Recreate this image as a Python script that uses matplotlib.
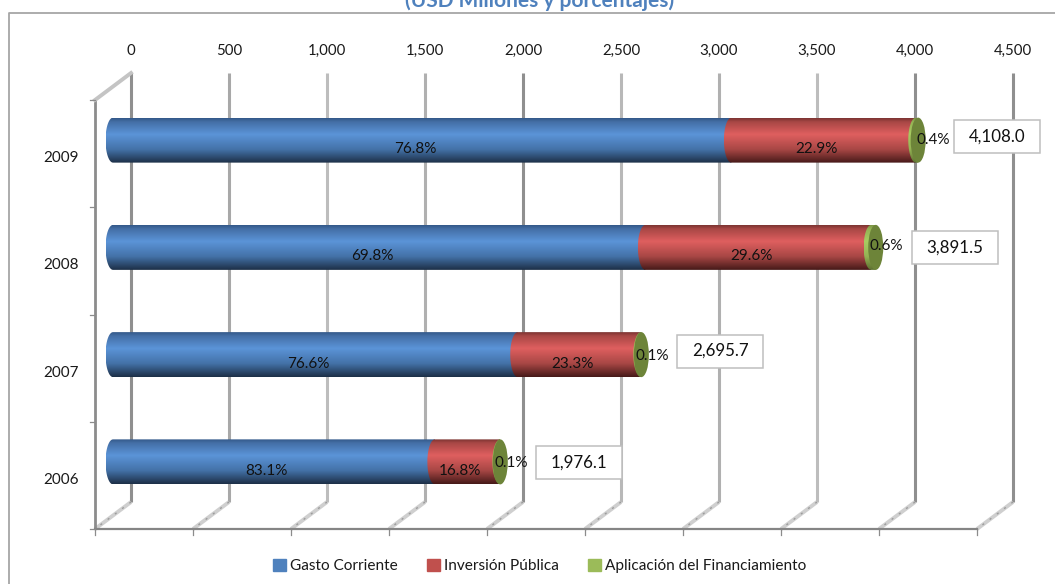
import numpy as np
import matplotlib
matplotlib.use('Agg')
import matplotlib.pyplot as plt
from matplotlib.patches import Ellipse, PathPatch, Patch, Rectangle
from matplotlib.path import Path
from matplotlib.lines import Line2D

# Data
years = ['2006', '2007', '2008', '2009']
totals = [1976.1, 2695.7, 3891.5, 4108.0]
gasto_pct = [83.1, 76.6, 69.8, 76.8]
inversion_pct = [16.8, 23.3, 29.6, 22.9]
aplicacion_pct = [0.1, 0.1, 0.6, 0.4]
series_names = ['Gasto Corriente', 'Inversión Pública', 'Aplicación del Financiamiento']
x_ticks = [0, 500, 1000, 1500, 2000, 2500, 3000, 3500, 4000, 4500]

plt.rcParams['font.family'] = ['Lato', 'DejaVu Sans']

W, H = 1055, 584
fig = plt.figure(figsize=(W / 100, H / 100), dpi=100)
ax = fig.add_axes([113 / W, (H - 515.5) / H, 882 / W, 429 / H])
ax.axis('off')

# pixels to data units
sx = 882 / 4500
sy = 429 / 4
dx = 18 / sx
dy = 13.5 / sy
half = 22.5 / sy
rx = 7.5 / sx


def shade(stops):
    pos = [0, 0.08, 0.36, 0.7, 1]
    rgb = np.array([matplotlib.colors.to_rgb(c) for c in stops])
    t = np.linspace(0, 1, 64)
    return np.stack([np.interp(t, pos, rgb[:, i]) for i in range(3)], axis=1)[:, None, :]


blue = shade(['#34598a', '#446fa6', '#5b94d8', '#4472a8', '#1d3048'])
red = shade(['#7e3533', '#a84745', '#df5f5f', '#a84745', '#471a19'])
green = shade(['#7d9645', '#94b254', '#a8cc62', '#94b254', '#5c7030'])


def segment(a, b, c, colors):
    # segment with the left end bulging out like a cylinder
    t = np.linspace(np.pi / 2, 3 * np.pi / 2, 30)
    xs = list(a + rx * np.cos(t)) + [b, b]
    ys = list(c + half * np.sin(t)) + [c - half, c + half]
    clip = PathPatch(Path(np.column_stack([xs, ys]), closed=False), transform=ax.transData)
    im = ax.imshow(colors, extent=(a - rx, b, c - half, c + half), aspect='auto',
                   interpolation='bilinear', zorder=4)
    im.set_clip_path(clip)
    im.set_clip_box(fig.bbox)


# back wall lines and floor lines
grid_colors = ['#8f8f8f', '#a8a8a8', '#bdbdbd', '#b0b0b0', '#8f8f8f',
               '#b8b8b8', '#b0b0b0', '#bdbdbd', '#8f8f8f', '#8f8f8f']
for v, col in zip(x_ticks, grid_colors):
    ax.plot([v + dx, v + dx], [-0.5 + dy, 3.5 + dy], color=col, lw=2.2,
            solid_capstyle='butt', clip_on=False, zorder=1)
    ax.plot([v + dx, v - dx], [-0.5 + dy, -0.5 - dy], color='#cfcfcf', lw=2.8,
            solid_capstyle='butt', clip_on=False, zorder=1)
    ax.plot([v + dx, v - dx], [-0.5 + dy, -0.5 - dy], color='#9c9c9c', lw=1.0,
            ls=(0, (1.5, 5)), clip_on=False, zorder=1)
    ax.plot([v - dx, v - dx], [-0.5 - dy, -0.5 - dy - 6 / sy], color='#8c8c8c', lw=0.9,
            clip_on=False, zorder=1)
    ax.annotate(f'{v:,}', (v + dx, 3.5 + dy), xytext=(0, 22), textcoords='offset pixels',
                ha='center', va='center', fontsize=10.8, color='#1a1a1a', annotation_clip=False)

# front left wall and front floor line
ax.plot([-dx, -dx], [-0.5 - dy, 3.5 - dy], color='#8c8c8c', lw=2.0, clip_on=False, zorder=1,
        solid_capstyle='butt')
ax.plot([-dx, 4500 - dx], [-0.5 - dy, -0.5 - dy], color='#858585', lw=1.6, clip_on=False, zorder=1)
ax.plot([dx, -dx], [3.5 + dy, 3.5 - dy], color='#c4c4c4', lw=2.8, clip_on=False, zorder=1)
for k in range(5):
    yy = -0.5 + k - dy
    ax.plot([-dx, -dx - 5 / sx], [yy, yy], color='#8c8c8c', lw=0.9, clip_on=False, zorder=1)

# bars
for i, year in enumerate(years):
    total = totals[i]
    g = total * gasto_pct[i] / 100
    n = total * inversion_pct[i] / 100
    segment(0, g, i, blue)
    segment(g, g + n, i, red)
    segment(g + n, total, i, green)
    ax.add_patch(Ellipse((total, i), 2 * rx, 2 * half, facecolor='#6d8439', edgecolor='none', zorder=5))

    # percent labels
    for v, p in [(g / 2, gasto_pct[i]), (g + n / 2, inversion_pct[i])]:
        ax.annotate(f'{p}%', (v, i), xytext=(-7, -9), textcoords='offset pixels', ha='center',
                    va='center', fontsize=11, color='#111111', zorder=7)
    label_dy = [-1, -1, 1, 0][i]
    label_dx = [11, 11, 11, 15][i]
    ax.annotate(f'{aplicacion_pct[i]}%', (total, i + label_dy / sy), xytext=(label_dx, 0),
                textcoords='offset pixels', ha='center', va='center', fontsize=11,
                color='#111111', zorder=7, annotation_clip=False)

    # total boxes
    box_dy = [-1, 3.5, 0, 3.5][i]
    ax.add_patch(Rectangle((total + 36 / sx, i + (box_dy - 16.5) / sy), 86 / sx, 33 / sy,
                           facecolor='white', edgecolor='#bfbfbf', lw=1.1, clip_on=False, zorder=6))
    ax.annotate(f'{total:,.1f}', (total + 79 / sx, i + box_dy / sy), ha='center', va='center',
                fontsize=12.2, color='#111111', zorder=7, annotation_clip=False)

    # category labels
    ax.annotate(year, (0, i), xytext=(-34, -18), textcoords='offset pixels', ha='right',
                va='center', fontsize=11, color='#1a1a1a', annotation_clip=False)

ax.set_xlim(0, 4500)
ax.set_ylim(-0.5, 3.5)

# chart frame
fig.add_artist(Line2D([9 / W, 9 / W, 1], [0, (H - 13) / H, (H - 13) / H], color='#a6a6a6', lw=1.3))

# title is cut by the top edge in the original
fig.text(540 / W, (H - 7) / H, '(USD Millones y porcentajes)', ha='center', va='baseline',
         fontsize=15, fontweight='bold', color='#4f81bd')

# legend
handles = [Patch(color='#4f81bd'), Patch(color='#c0504d'), Patch(color='#9bbb59')]
fig.legend(handles, series_names, loc='center', bbox_to_anchor=(540 / W, (H - 566) / H), ncol=3,
           frameon=False, fontsize=11.1, handlelength=0.8, handleheight=0.8, handletextpad=0.3,
           columnspacing=1.9, labelcolor='#1a1a1a')

fig.savefig('out.png', dpi=100)
